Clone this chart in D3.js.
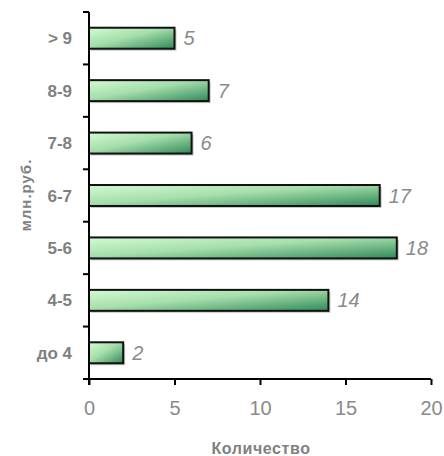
<!DOCTYPE html>
<html>
<head>
<meta charset="utf-8">
<script src="https://cdn.jsdelivr.net/npm/d3@7/dist/d3.min.js"></script>
<style>
  html, body { margin: 0; padding: 0; background: #fff; }
  text { font-family: Arial, "Liberation Sans", sans-serif; }
</style>
</head>
<body>
<svg id="chart" width="444" height="456"></svg>
<script>
// Price ranges (top to bottom) and number of deals in each
const categories = ["> 9", "8-9", "7-8", "6-7", "5-6", "4-5", "до 4"];
const counts = [5, 7, 6, 17, 18, 14, 2];
const xTicks = [0, 5, 10, 15, 20];
const xTitle = "Количество";
const yTitle = "млн.руб.";

const svg = d3.select("#chart");
const margin = { left: 89, right: 13, top: 12, bottom: 77 };
const W = 444, H = 456;

const x = d3.scaleLinear().domain([0, 20]).range([margin.left, W - margin.right]);
const y = d3.scaleBand().domain(categories).range([margin.top, H - margin.bottom]).paddingInner(0.6).paddingOuter(0.3);

const defs = svg.append("defs");
const grad = defs.append("linearGradient")
  .attr("id", "barFill").attr("x1", "0").attr("y1", "0").attr("x2", "1").attr("y2", "1");
grad.append("stop").attr("offset", "0%").attr("stop-color", "#d2fbd2");
grad.append("stop").attr("offset", "45%").attr("stop-color", "#a6deac");
grad.append("stop").attr("offset", "100%").attr("stop-color", "#2f8a58");

// soft shadow under bars
svg.append("g").selectAll("rect").data(counts).join("rect")
  .attr("x", x(0) + 2)
  .attr("y", (d, i) => y(categories[i]) + 2)
  .attr("width", d => x(d) - x(0))
  .attr("height", y.bandwidth())
  .attr("fill", "#c8c8c8");

svg.append("g").selectAll("rect").data(counts).join("rect")
  .attr("x", x(0))
  .attr("y", (d, i) => y(categories[i]))
  .attr("width", d => x(d) - x(0))
  .attr("height", y.bandwidth())
  .attr("fill", "url(#barFill)")
  .attr("stroke", "#111")
  .attr("stroke-width", 2);

// value labels
svg.append("g").selectAll("text").data(counts).join("text")
  .attr("x", d => x(d) + 9)
  .attr("y", (d, i) => y(categories[i]) + y.bandwidth() / 2 + 7)
  .attr("font-size", 20).attr("font-style", "italic")
  .attr("fill", "#8a8a8a")
  .text(d => d);

// x axis
const xAxis = svg.append("g")
  .attr("transform", `translate(0,${H - margin.bottom})`)
  .call(d3.axisBottom(x).tickValues(xTicks).tickSize(6).tickPadding(16).tickSizeOuter(0));
xAxis.select(".domain").attr("stroke", "#000").attr("stroke-width", 2)
  .attr("d", `M${x(0) - 6},0H${x(20)}`);
xAxis.selectAll(".tick line").attr("stroke", "#000").attr("stroke-width", 2);
xAxis.selectAll(".tick text").attr("font-size", 20).attr("fill", "#8a8a8a")
  .attr("font-family", "Arial, 'Liberation Sans', sans-serif");

// y axis with ticks between categories
const boundaries = d3.range(categories.length + 1).map(i => margin.top + i * (H - margin.bottom - margin.top) / categories.length);
const yAxis = svg.append("g");
yAxis.append("line")
  .attr("x1", x(0)).attr("x2", x(0))
  .attr("y1", margin.top).attr("y2", H - margin.bottom + 6)
  .attr("stroke", "#000").attr("stroke-width", 2);
yAxis.selectAll("line.t").data(boundaries).join("line")
  .attr("class", "t")
  .attr("x1", x(0) - 6).attr("x2", x(0))
  .attr("y1", d => d).attr("y2", d => d)
  .attr("stroke", "#000").attr("stroke-width", 2);

// category labels
svg.append("g").selectAll("text").data(categories).join("text")
  .attr("x", 72)
  .attr("y", d => y(d) + y.bandwidth() / 2 + 6)
  .attr("text-anchor", "end")
  .attr("font-size", 17).attr("font-weight", "bold")
  .attr("fill", "#808080")
  .text(d => d);

// axis titles
svg.append("text")
  .attr("x", 261).attr("y", 454)
  .attr("text-anchor", "middle")
  .attr("font-size", 16).attr("font-weight", "bold")
  .attr("letter-spacing", 0.6)
  .attr("fill", "#808080")
  .text(xTitle);

svg.append("text")
  .attr("transform", "translate(31,195) rotate(-90)")
  .attr("text-anchor", "middle")
  .attr("font-size", 15).attr("font-weight", "bold")
  .attr("letter-spacing", 1)
  .attr("fill", "#808080")
  .text(yTitle);
</script>
</body>
</html>
